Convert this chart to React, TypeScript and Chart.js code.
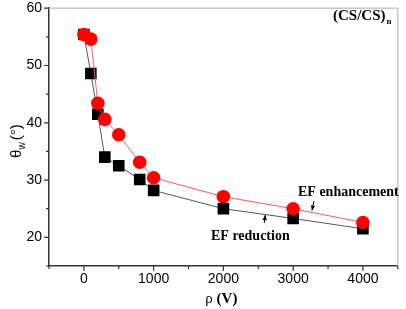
import React, { useEffect, useRef } from "react";
import { Chart, registerables } from "chart.js";

Chart.register(...registerables);

const voltages = [0, 100, 200, 300, 500, 800, 1000, 2000, 3000, 4000];
const efEnhancement = [55.4, 54.6, 43.4, 40.6, 37.9, 33.1, 30.4, 27.1, 25.0, 22.6];
const efReduction = [55.4, 48.6, 41.5, 34.0, 32.5, 30.1, 28.2, 25.0, 23.3, 21.5];

const xMajorTicks = [0, 1000, 2000, 3000, 4000];
const yMajorTicks = [20, 30, 40, 50, 60];

const SERIF = "'Liberation Serif', 'Times New Roman', serif";
const SANS = "'Liberation Sans', Arial, sans-serif";

const decorPlugin = {
  id: "decor",
  afterDraw(chart: any) {
    const ctx = chart.ctx as CanvasRenderingContext2D;
    const { left, right, top, bottom } = chart.chartArea;
    const xs = chart.scales.x;
    const ys = chart.scales.y;
    ctx.save();
    // top & right light frame
    ctx.strokeStyle = "#c8c8c8";
    ctx.lineWidth = 1.5;
    ctx.beginPath();
    ctx.moveTo(left, top);
    ctx.lineTo(right, top);
    ctx.lineTo(right, bottom);
    ctx.stroke();
    // ticks
    ctx.strokeStyle = "#333";
    ctx.lineWidth = 1.2;
    ctx.beginPath();
    xs.ticks.forEach((t: any) => {
      const px = xs.getPixelForValue(t.value);
      const len = xMajorTicks.includes(t.value) ? 5 : 3;
      ctx.moveTo(px, bottom);
      ctx.lineTo(px, bottom + len);
    });
    ys.ticks.forEach((t: any) => {
      const py = ys.getPixelForValue(t.value);
      const len = yMajorTicks.includes(t.value) ? 5 : 3;
      ctx.moveTo(left, py);
      ctx.lineTo(left - len, py);
    });
    ctx.stroke();

    // texts
    ctx.fillStyle = "#000";
    ctx.textBaseline = "middle";
    ctx.textAlign = "left";
    // (CS/CS)n
    ctx.font = `bold 15px ${SERIF}`;
    ctx.fillText("(CS/CS)", 333, 16);
    const w1 = ctx.measureText("(CS/CS)").width;
    ctx.font = `bold 9px ${SERIF}`;
    ctx.fillText("n", 333 + w1 + 1, 22);

    ctx.font = `bold 14px ${SERIF}`;
    ctx.fillText("EF enhancement", 298, 192);
    ctx.fillText("EF reduction", 211, 236);

    // arrows
    const arrow = (x1: number, y1: number, x2: number, y2: number) => {
      ctx.strokeStyle = "#000";
      ctx.lineWidth = 1;
      ctx.beginPath();
      ctx.moveTo(x1, y1);
      ctx.lineTo(x2, y2);
      ctx.stroke();
      const ang = Math.atan2(y2 - y1, x2 - x1);
      const hl = 5, hw = 2.2;
      ctx.beginPath();
      ctx.moveTo(x2, y2);
      ctx.lineTo(x2 - hl * Math.cos(ang) + hw * Math.sin(ang), y2 - hl * Math.sin(ang) - hw * Math.cos(ang));
      ctx.lineTo(x2 - hl * Math.cos(ang) - hw * Math.sin(ang), y2 - hl * Math.sin(ang) + hw * Math.cos(ang));
      ctx.closePath();
      ctx.fill();
    };
    const ex = xs.getPixelForValue(3270);
    arrow(ex + 2, 201, ex, 210.5);
    const rx = xs.getPixelForValue(2600);
    arrow(rx - 1, 223, rx, 215);

    // x title: ρ (V)
    ctx.textBaseline = "middle";
    ctx.font = `15px ${SERIF}`;
    const rho = "ρ ";
    const rw = ctx.measureText(rho).width;
    ctx.font = `bold 15px ${SERIF}`;
    const vw = ctx.measureText("(V)").width;
    const cx = (left + right) / 2 - 2;
    const sx = cx - (rw + vw) / 2;
    ctx.font = `15px ${SERIF}`;
    ctx.fillText(rho, sx, 299);
    ctx.font = `bold 15px ${SERIF}`;
    ctx.fillText("(V)", sx + rw, 299);

    // y title: θw (°)
    ctx.save();
    ctx.translate(17, (top + bottom) / 2 + 4);
    ctx.rotate(-Math.PI / 2);
    ctx.font = `15px ${SANS}`;
    const tw = ctx.measureText("θ").width;
    ctx.font = `10px ${SANS}`;
    const ww = ctx.measureText("w").width;
    ctx.font = `15px ${SANS}`;
    const dw = ctx.measureText("(°)").width;
    const total = tw + ww + 2 + dw;
    let px = -total / 2;
    ctx.fillText("θ", px, 0);
    px += tw;
    ctx.font = `10px ${SANS}`;
    ctx.fillText("w", px, 5);
    px += ww + 2;
    ctx.font = `15px ${SANS}`;
    ctx.fillText("(°)", px, 0);
    ctx.restore();

    ctx.restore();
  },
};

export default function App() {
  const canvasRef = useRef<HTMLCanvasElement | null>(null);

  useEffect(() => {
    if (!canvasRef.current) return;
    const chart = new Chart(canvasRef.current, {
      type: "line",
      data: {
        datasets: [
          {
            label: "EF enhancement",
            data: voltages.map((v, i) => ({ x: v, y: efEnhancement[i] })),
            borderColor: "#ff5a5a",
            borderWidth: 1,
            backgroundColor: "#ff0000",
            pointStyle: "circle",
            pointRadius: 6.8,
            pointBorderWidth: 0,
            pointBackgroundColor: "#ff0000",
            tension: 0,
          },
          {
            label: "EF reduction",
            data: voltages.map((v, i) => ({ x: v, y: efReduction[i] })),
            borderColor: "#555555",
            borderWidth: 1,
            backgroundColor: "#000000",
            pointStyle: "rect",
            pointRadius: 8.2,
            pointBorderWidth: 0,
            pointBackgroundColor: "#000000",
            tension: 0,
          },
        ],
      },
      options: {
        animation: false,
        responsive: false,
        devicePixelRatio: 1,
        layout: { padding: { top: 7, right: 4, left: 0, bottom: 0 } },
        plugins: { legend: { display: false }, tooltip: { enabled: false } },
        scales: {
          x: {
            type: "linear",
            min: -500,
            max: 4500,
            afterFit: (s: any) => {
              s.height = 43;
              s.paddingLeft = 0;
              s.paddingRight = 0;
            },
            ticks: {
              stepSize: 500,
              autoSkip: false,
              maxRotation: 0,
              padding: 5,
              color: "#000",
              font: { family: SANS, size: 14 },
              callback: (v: any) => (xMajorTicks.includes(v) ? String(v) : ""),
            },
            grid: { display: true, drawOnChartArea: false, drawTicks: false },
            border: { display: true, color: "#333", width: 1.5 },
            title: { display: false },
          },
          y: {
            type: "linear",
            min: 15,
            max: 60,
            afterFit: (s: any) => {
              s.width = 49;
              s.paddingTop = 0;
              s.paddingBottom = 0;
            },
            ticks: {
              stepSize: 5,
              autoSkip: false,
              padding: 7,
              color: "#000",
              font: { family: SANS, size: 14 },
              callback: (v: any) => (yMajorTicks.includes(v) ? String(v) : ""),
            },
            grid: { display: true, drawOnChartArea: false, drawTicks: false },
            border: { display: true, color: "#333", width: 1.5 },
            title: { display: false },
          },
        },
      },
      plugins: [decorPlugin],
    });
    return () => chart.destroy();
  }, []);

  return (
    <div style={{ position: "fixed", left: 0, top: 0, width: 406, height: 309, background: "#fff" }}>
      <canvas ref={canvasRef} width={406} height={309} style={{ width: 406, height: 309, display: "block" }} />
    </div>
  );
}
